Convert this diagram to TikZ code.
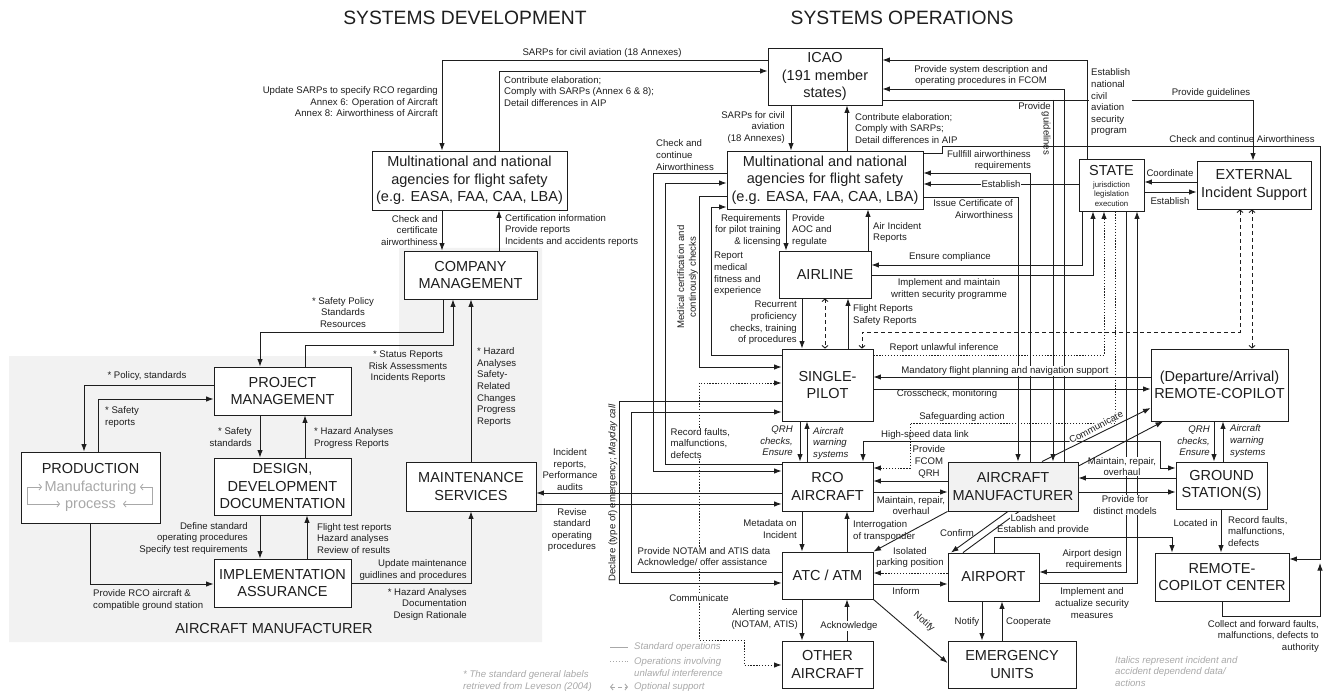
\documentclass[tikz,border=0pt]{standalone}
\usepackage{fontspec}
\setmainfont{Liberation Sans}
\usetikzlibrary{arrows.meta}
\definecolor{lgray}{HTML}{F2F2F2}
\definecolor{tgray}{HTML}{A8A8A8}
\definecolor{ink}{HTML}{1E1E1E}
\newcommand\bxf{\fontsize{14.5}{17.5}\selectfont}
\newcommand\lbf{\fontsize{9.6}{11.6}\selectfont}
\newcommand\ttlf{\fontsize{19.3}{22}\selectfont}
\newcommand\smf{\fontsize{7.8}{9.4}\selectfont}
\tikzset{
  ah/.tip={Latex[length=7.5pt,width=5.5pt]},
  oh/.tip={Straight Barb[length=2.5pt,width=6pt]},
  box/.style={draw=ink,line width=0.9pt,fill=white,align=center,font=\bxf,text=ink,inner sep=0pt},
  lab/.style={font=\lbf,inner sep=0pt,text=ink},
  labl/.style={lab,align=left,anchor=west},
  labr/.style={lab,align=right,anchor=east},
  labc/.style={lab,align=center},
  wb/.style={fill=white,inner sep=1pt},
  ln/.style={line width=0.9pt,draw=ink},
  arr/.style={ln,-ah},
  barr/.style={ln,ah-ah},
  dotln/.style={ln,dash pattern=on 1.3pt off 1.6pt},
  dotarr/.style={dotln,-ah},
  dotbarr/.style={dotln,ah-ah},
  opt/.style={ln,dash pattern=on 4pt off 3pt,oh-oh},
}
\begin{document}
\begin{tikzpicture}[x=1pt,y=-1pt]
\useasboundingbox (0,0) rectangle (1326,695);
\fill[lgray] (9,356) -- (399,356) -- (399,248) -- (542,248) -- (542,642) -- (9,642) -- cycle;

% titles
\node[font=\ttlf,text=ink,inner sep=0pt] (t1) at (465,18) {SYSTEMS DEVELOPMENT};
\node[font=\ttlf,text=ink,inner sep=0pt] (t2) at (902,18) {SYSTEMS OPERATIONS};

% boxes
\node[box,minimum width=195pt,minimum height=59pt] (mnaL) at (469.5,180.5) {Multinational and national\\agencies for flight safety\\(e.g. EASA, FAA, CAA, LBA)};
\node[box,minimum width=133pt,minimum height=48pt] (comp) at (470.5,275) {COMPANY\\MANAGEMENT};
\node[box,minimum width=137pt,minimum height=48pt] (pm) at (282.5,391) {PROJECT\\MANAGEMENT};
\node[box,minimum width=139pt,minimum height=71pt] (prod) at (90.5,487.5) {PRODUCTION\\\textcolor{tgray}{Manufacturing}\\\textcolor{tgray}{process}};
\node[box,minimum width=137pt,minimum height=57pt] (design) at (282.5,486.5) {DESIGN,\\DEVELOPMENT\\DOCUMENTATION};
\node[box,minimum width=137pt,minimum height=48pt] (impl) at (282.5,583) {IMPLEMENTATION\\ASSURANCE};
\node[box,minimum width=130pt,minimum height=49pt] (maint) at (471,486.5) {MAINTENANCE\\SERVICES};
\node[box,minimum width=114pt,minimum height=57pt] (icao) at (825,76.5) {ICAO\\(191 member\\states)};
\node[box,minimum width=196pt,minimum height=58pt] (mnaR) at (825,180) {Multinational and national\\agencies for flight safety\\(e.g. EASA, FAA, CAA, LBA)};
\node[box,minimum width=92pt,minimum height=47pt] (airline) at (825,274.5) {AIRLINE};
\node[box,minimum width=91pt,minimum height=72pt] (sp) at (827.5,385) {SINGLE-\\PILOT};
\node[box,minimum width=91pt,minimum height=49pt] (rco) at (827.5,486.5) {RCO\\AIRCRAFT};
\node[box,minimum width=91pt,minimum height=47pt] (atc) at (827.5,575.5) {ATC / ATM};
\node[box,minimum width=91pt,minimum height=47pt] (other) at (827.5,664.5) {OTHER\\AIRCRAFT};
\node[box,fill=lgray,minimum width=130pt,minimum height=49pt] (am) at (1013,486.5) {AIRCRAFT\\MANUFACTURER};
\node[box,minimum width=91pt,minimum height=48pt] (airport) at (993.5,577) {AIRPORT};
\node[box,minimum width=128pt,minimum height=47pt] (emerg) at (1012,664.5) {EMERGENCY\\UNITS};
\node[box,minimum width=91pt,minimum height=47pt] (gs) at (1221.5,485.5) {GROUND\\STATION(S)};
\node[box,minimum width=134pt,minimum height=48pt] (rcc) at (1222,577) {REMOTE-\\COPILOT CENTER};
\node[box,minimum width=137pt,minimum height=72pt] (rcp) at (1219.5,385) {(Departure/Arrival)\\REMOTE-COPILOT};
\node[box,minimum width=65pt,minimum height=52pt] (state) at (1111.5,185) {};
\node[box,minimum width=114pt,minimum height=48pt] (ext) at (1254,185) {EXTERNAL\\Incident Support};
\node[font=\bxf,text=ink,inner sep=0pt] (stt) at (1111.5,171) {STATE};
\node[font=\smf,text=ink,inner sep=0pt,align=center] (stsub) at (1111.5,194) {jurisdiction\\legislation\\execution};

% production loop
\draw[tgray,line width=0.8pt,-oh] (27,495) |- (42,487);
\draw[tgray,line width=0.8pt,-oh] (27,495) |- (60,504);
\draw[tgray,line width=0.8pt,-oh] (152,495) |- (140,487);
\draw[tgray,line width=0.8pt,-oh] (152,495) |- (123,504);

% ---------- systems development connectors
\draw[arr] (icao.west |- 0,60) -- (442,60) -- (mnaL.north -| 442,0);
\draw[arr] (mnaL.north -| 499,0) -- (499,71) -- (icao.west |- 0,71);
\draw[arr] (mnaL.south -| 442,0) -- (comp.north -| 442,0);
\draw[arr] (comp.north -| 499,0) -- (mnaL.south -| 499,0);
\draw[arr] (comp.south -| 443,0) -- (443,332) -- (260,332) -- (pm.north -| 260,0);
\draw[arr] (pm.north -| 305,0) -- (305,345) -- (453,345) -- (comp.south -| 453,0);
\draw[arr] (maint.north -| 471,0) -- (comp.south -| 471,0);
\draw[arr] (pm.west |- 0,385) -- (84,385) -- (prod.north -| 84,0);
\draw[arr] (prod.north -| 98,0) -- (98,399) -- (pm.west |- 0,399);
\draw[arr] (pm.south -| 260,0) -- (design.north -| 260,0);
\draw[arr] (design.north -| 305,0) -- (pm.south -| 305,0);
\draw[arr] (design.south -| 260,0) -- (impl.north -| 260,0);
\draw[arr] (impl.north -| 307,0) -- (design.south -| 307,0);
\draw[arr] (prod.south -| 90,0) -- (90,584) -- (impl.west |- 0,584);
\draw[arr] (impl.east |- 0,583) -- (471,583) -- (maint.south -| 471,0);
\draw[arr] (rco.west |- 0,493) -- (maint.east |- 0,493);
\draw[arr] (maint.east |- 0,504) -- (rco.west |- 0,504);

% ---------- left of operations column
\draw[arr] (sp.west |- 0,401) -- (619,401) -- (619,583) -- (atc.west |- 0,583);
\draw[arr] (atc.west |- 0,572) -- (631,572) -- (631,412) -- (sp.west |- 0,412);
\draw[arr] (mnaR.west |- 0,173) -- (653,173) -- (653,471) -- (rco.west |- 0,471);
\draw[arr] (rco.west |- 0,464) -- (665,464) -- (665,183) -- (mnaR.west |- 0,183);
\draw[arr] (mnaR.west |- 0,196) -- (699,196) -- (699,367) -- (sp.west |- 0,367);
\draw[arr] (sp.west |- 0,355) -- (711,355) -- (711,207) -- (mnaR.west |- 0,207);
\draw[dotbarr] (sp.west |- 0,383) -- (699,383) -- (699,640) -- (744,640) -- (744,665) -- (other.west |- 0,665);

% ---------- vertical column
\draw[arr] (icao.south -| 791,0) -- (mnaR.north -| 791,0);
\draw[arr] (mnaR.north -| 847,0) -- (icao.south -| 847,0);
\draw[arr] (mnaR.south -| 786,0) -- (airline.north -| 786,0);
\draw[arr] (airline.north -| 868,0) -- (mnaR.south -| 868,0);
\draw[arr] (airline.south -| 802,0) -- (sp.north -| 802,0);
\draw[opt] (airline.south -| 825,0) -- (sp.north -| 825,0);
\draw[arr] (sp.north -| 848,0) -- (airline.south -| 848,0);
\draw[arr] (sp.south -| 800,0) -- (rco.north -| 800,0);
\draw[arr] (rco.north -| 807,0) -- (sp.south -| 807,0);
\draw[arr] (rco.south -| 802,0) -- (atc.north -| 802,0);
\draw[arr] (atc.north -| 847,0) -- (rco.south -| 847,0);
\draw[arr] (atc.south -| 802,0) -- (other.north -| 802,0);
\draw[arr] (other.north -| 847,0) -- (atc.south -| 847,0);

% ---------- right part
\coordinate (j1) at (1053,100);
\draw[arr] (state.north -| 1087,0) -- (1087,60) -- (icao.east |- 0,60);
\draw[arr] (am.north -| 1064,0) -- (1064,89) -- (icao.east |- 0,89);
\draw[arr] (icao.east |- 0,100) -- (1253,100) -- (ext.north -| 1253,0);
\draw[arr] (j1) -- (am.north -| 1053,0);
\draw[arr] (mnaR.east |- 0,153) -- (942,153) -- (942,146) -- (1320,146) -- (1320,559) -- (rcc.east |- 0,559);
\draw[arr] (am.north -| 1030,0) -- (1030,173) -- (mnaR.east |- 0,173);
\draw[arr] (state.west |- 0,184) -- (mnaR.east |- 0,184);
\draw[arr] (mnaR.east |- 0,197) -- (1018,197) -- (am.north -| 1018,0);
\draw[arr] (state.south -| 1082,0) -- (1082,265) -- (airline.east |- 0,265);
\draw[arr] (airline.east |- 0,275) -- (1093,275) -- (state.south -| 1093,0);
\draw[dotarr] (sp.east |- 0,355) -- (1104,355) -- (state.south -| 1104,0);
\draw[dotarr] (state.south -| 1115,0) -- (1115,423) -- (910,423) -- (910,468) -- (rco.east |- 0,468);
\draw[arr] (state.south -| 1126,0) -- (1126,572) -- (airport.east |- 0,572);
\draw[arr] (airport.east |- 0,583) -- (1137,583) -- (state.south -| 1137,0);
\draw[arr] (ext.west |- 0,182) -- (state.east |- 0,182);
\draw[arr] (state.east |- 0,192) -- (ext.west |- 0,192);
\draw[opt] (sp.north -| 862,0) -- (862,332) -- (1240,332) -- (ext.south -| 1240,0);
\draw[opt] (ext.south -| 1252,0) -- (rcp.north -| 1252,0);
\draw[arr] (rcp.west |- 0,377) -- (sp.east |- 0,377);
\draw[arr] (sp.east |- 0,389) -- (rcp.west |- 0,389);
\draw[barr] (rco.north -| 863,0) -- (863,441) -- (1160,441) -- (1160,468) -- (gs.west |- 0,468);
\draw[arr] (am.west |- 0,481) -- (rco.east |- 0,481);
\draw[arr] (rco.east |- 0,492) -- (am.west |- 0,492);
\draw[arr] (gs.west |- 0,478) -- (am.east |- 0,478);
\draw[arr] (am.east |- 0,492) -- (gs.west |- 0,492);
\draw[arr] (rcp.south -| 1214,0) -- (gs.north -| 1214,0);
\draw[arr] (gs.north -| 1223,0) -- (rcp.south -| 1223,0);
\draw[arr] (gs.south -| 1221,0) -- (rcc.north -| 1221,0);
\draw[arr] (airport.north -| 994,0) -- (994,537) -- (1172,537) -- (rcc.north -| 1172,0);
\draw[ln] (airport.north -| 963,0) -- (am.south -| 1019,0);
\draw[arr] (am.south -| 1008,0) -- (airport.north -| 951,0);
\draw[dotarr] (airport.west |- 0,573) -- (atc.east |- 0,573);
\draw[arr] (atc.east |- 0,584) -- (airport.west |- 0,584);
\draw[arr] (atc.south east) -- (emerg.west |- 0,663);
\draw[arr] (airport.south -| 982,0) -- (emerg.north -| 982,0);
\draw[arr] (emerg.north -| 1002,0) -- (airport.south -| 1002,0);
\coordinate (cf) at (1320,563);
\draw[arr] (rcc.south -| 1222,0) -- (1222,616) -- (1320,616) -- (cf);

% ---------- labels: development side
\node[labc] (l1) at (602,53) {SARPs for civil aviation (18 Annexes)};
\node[labr] (l2) at (438,101.8) {Update SARPs to specify RCO regarding\\Annex 6: Operation of Aircraft\\Annex 8: Airworthiness of Aircraft};
\node[labl] (l3) at (504,91.5) {Contribute elaboration;\\Comply with SARPs (Annex 6 \& 8);\\Detail differences in AIP};
\node[labr] (l4) at (438,230.5) {Check and\\certificate\\airworthiness};
\node[labl] (l5) at (505,230.5) {Certification information\\Provide reports\\Incidents and accidents reports};
\node[labc] (l6) at (343,312.5) {* Safety Policy\\Standards\\Resources};
\node[labc] (l7) at (408,367) {* Status Reports\\Risk Assessments\\Incidents Reports};
\node[labl] (l8) at (477,387) {* Hazard\\Analyses\\Safety-\\Related\\Changes\\Progress\\Reports};
\node[labc] (l9) at (147,376) {* Policy, standards};
\node[labl] (l10) at (105,417) {* Safety\\reports};
\node[labr] (l11) at (252,437) {* Safety\\standards};
\node[labl] (l12) at (314,438) {* Hazard Analyses\\Progress Reports};
\node[labr] (l13) at (248,538.5) {Define standard\\operating procedures\\Specify test requirements};
\node[labl] (l14) at (317,538.5) {Flight test reports\\Hazard analyses\\Review of results};
\node[labl] (l15) at (93,600) {Provide RCO aircraft \&\\compatible ground station};
\node[labr] (l16) at (467,570) {Update maintenance\\guidlines and procedures};
\node[labr] (l17) at (467,604.5) {* Hazard Analyses\\Documentation\\Design Rationale};
\node[font=\bxf,text=ink,inner sep=0pt] (l18) at (274,629) {AIRCRAFT MANUFACTURER};
\node[labc] (l19) at (570,469.5) {Incident\\reports,\\Performance\\audits};
\node[labc] (l20) at (572,530) {Revise\\standard\\operating\\procedures};

% ---------- labels: operations side
\node[lab,rotate=90] (l21) at (613,493) {Declare (type of) emergency; \textit{Mayday call}};
\node[labc,rotate=90] (l22) at (687.5,277) {Medical certification and\\continously checks};
\node[labl] (l23) at (656,155) {Check and\\continue\\Airworthiness};
\node[labl,wb,inner sep=0.5pt] (l24) at (670,443.5) {Record faults,\\malfunctions,\\defects};
\node[labl] (l25) at (714,274) {Report\\medical\\fitness and\\experience};
\node[labr] (l26) at (781,230.5) {Requirements\\for pilot training\\\& licensing};
\node[labl] (l27) at (792,230.5) {Provide\\AOC and\\regulate};
\node[labl] (l28) at (873,232.5) {Air Incident\\Reports};
\node[labr] (l29) at (797,323) {Recurrent\\proficiency\\checks, training\\of procedures};
\node[labl] (l30) at (853,315) {Flight Reports\\Safety Reports};
\node[labr] (l31) at (785,127.5) {SARPs for civil\\aviation\\(18 Annexes)};
\node[labl] (l32) at (855,128.5) {Contribute elaboration;\\Comply with SARPs;\\Detail differences in AIP};
\node[labc] (l33) at (981,75.5) {Provide system description and\\operating procedures in FCOM};
\node[labl,fill=white,inner sep=2pt] (l34) at (1089,102.5) {Establish\\national\\civil\\aviation\\security\\program};
\node[labc] (l35) at (1211,93) {Provide guidelines};
\node[labr] (l36a) at (1051,106) {Provide};
\node[lab,rotate=-90] (l36b) at (1046,133.5) {guidelines};
\node[labc] (l37) at (1242,139) {Check and continue Airworthiness};
\node[labr] (l38) at (1031,160.5) {Fullfill airworthiness\\requirements};
\node[labc,wb] (l39) at (1001,184) {Establish};
\node[labr] (l40) at (1013,209) {Issue Certificate of\\Airworthiness};
\node[labc] (l41) at (950,257) {Ensure compliance};
\node[labc] (l42) at (949,289) {Implement and maintain\\written security programme};
\node[labc] (l43a) at (1170,173) {Coordinate};
\node[labc] (l43b) at (1170,201) {Establish};
\node[labc] (l44) at (944,348) {Report unlawful inference};
\node[labc,wb,inner sep=0.5pt] (l45) at (1005,371) {Mandatory flight planning and navigation support};
\node[labc] (l46) at (947,394) {Crosscheck, monitoring};
\node[labc] (l47) at (962,417) {Safeguarding action};
\node[labc] (l48) at (925,435) {High-speed data link};
\node[labc] (l49) at (929,462) {Provide\\FCOM\\QRH};
\node[labc] (l50) at (911,505.5) {Maintain, repair,\\overhaul};
\node[lab,rotate=27.6,fill=white,inner sep=0.4pt] (l51) at (1096,427) {Communicate};
\node[labc,wb,inner sep=0.5pt] (l52) at (1122,466.5) {Maintain, repair,\\overhaul};
\node[labc,wb,inner sep=0.5pt] (l53) at (1125,505) {Provide for\\distinct models};
\node[labr,font=\lbf\itshape] (l54) at (1210,441) {QRH\\checks,\\Ensure};
\node[labl,font=\lbf\itshape] (l55) at (1230,441) {Aircraft\\warning\\systems};
\node[labr] (l56) at (1218,523) {Located in};
\node[labl] (l57) at (1228,531.5) {Record faults,\\malfunctions,\\defects};
\node[labc] (l58) at (1043,530) {Establish and provide};
\node[labc,wb,inner sep=0.5pt] (l59) at (1033,518) {Loadsheet};
\node[labc] (l60) at (957,533) {Confirm};
\node[labr] (l61) at (1122,559.5) {Airport design\\requirements};
\node[labc] (l62) at (1092,603) {Implement and\\actualize security\\measures};
\node[labc] (l63) at (967,622) {Notify};
\node[labl] (l64) at (1006,622) {Cooperate};
\node[labr] (l65) at (1319,636.5) {Collect and forward faults,\\malfunctions, defects to\\authority};
\node[labl,font=\lbf\itshape,text=tgray] (l66) at (1115,671.5) {Italics represent incident and\\accident dependend data/\\actions};
\node[labl] (l67) at (853,531) {Interrogation\\of transponder};
\node[labr] (l68) at (797,529) {Metadata on\\Incident};
\node[labc] (l69) at (910,557.5) {Isolated\\parking position};
\node[labc] (l70) at (906,591) {Inform};
\node[lab,rotate=-41.5] (l71) at (924,622) {Notify};
\node[labl,wb,inner sep=0.5pt] (l72) at (637,557.5) {Provide NOTAM and ATIS data\\Acknowledge/ offer assistance};
\node[labc,wb] (l73) at (699,598) {Communicate};
\node[labr] (l74) at (798,619) {Alerting service\\(NOTAM, ATIS)};
\node[labc,wb] (l75) at (849,626) {Acknowledge};
\node[labr,font=\lbf\itshape] (l76) at (793,441) {QRH\\checks,\\Ensure};
\node[labl,font=\lbf\itshape] (l77) at (813,443.5) {Aircraft\\warning\\systems};

% diagonals drawn on top
\draw[arr] (am.north -| 1042,0) -- (rcp.west |- 0,408);
\draw[arr] (am.east |- 0,466) -- (rcp.south -| 1163,0);
\draw[arr] (am.south west) -- (atc.north east);

% ---------- legend
\coordinate (lg1a) at (610,647); \coordinate (lg1b) at (628,647);
\coordinate (lg2a) at (610,661); \coordinate (lg2b) at (628,661);
\coordinate (lg3a) at (610,687); \coordinate (lg3b) at (628,687);
\draw[tgray,line width=0.9pt] (lg1a) -- (lg1b);
\draw[tgray,line width=0.9pt,dash pattern=on 1.3pt off 1.6pt] (lg2a) -- (lg2b);
\draw[tgray,line width=0.9pt,dash pattern=on 4pt off 3pt,oh-oh] (lg3a) -- (lg3b);
\node[labl,font=\lbf\itshape,text=tgray] (lg1) at (634,647) {Standard operations};
\node[labl,font=\lbf\itshape,text=tgray] (lg2) at (634,667) {Operations involving\\unlawful interference};
\node[labl,font=\lbf\itshape,text=tgray] (lg3) at (634,687) {Optional support};
\node[labl,font=\lbf\itshape,text=tgray] (lg4) at (463,681) {* The standard general labels\\retrieved from Leveson (2004)};
\end{tikzpicture}
\end{document}
